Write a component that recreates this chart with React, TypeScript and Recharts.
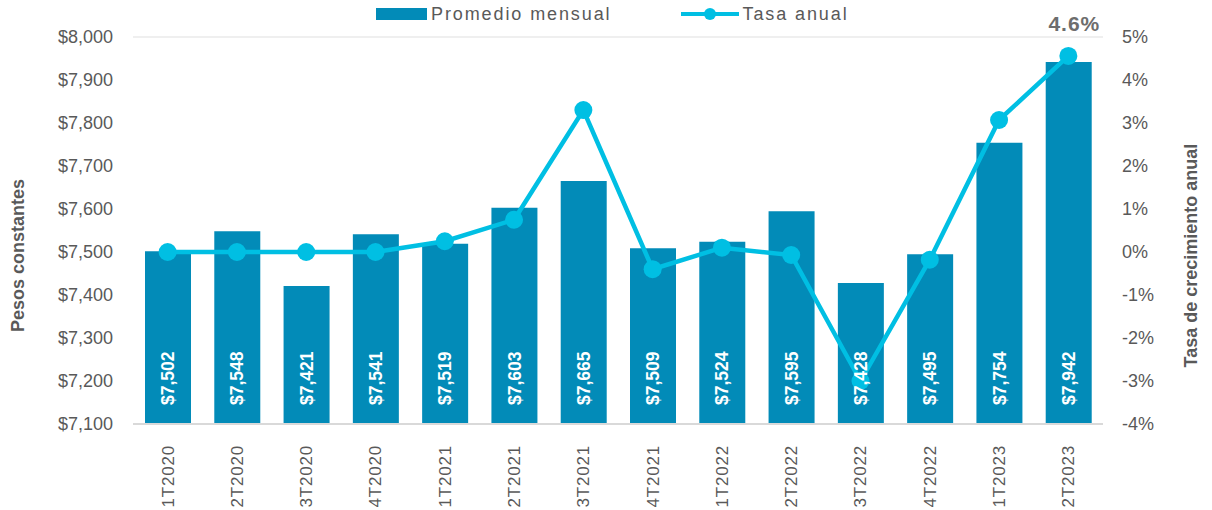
import React from "react";
import {
  ComposedChart,
  Bar,
  Line,
  XAxis,
  YAxis,
  CartesianGrid,
  Legend,
  LabelList,
} from "recharts";

const quarters = [
  "1T2020", "2T2020", "3T2020", "4T2020",
  "1T2021", "2T2021", "3T2021", "4T2021",
  "1T2022", "2T2022", "3T2022", "4T2022",
  "1T2023", "2T2023",
];
const monthlyAvg = [
  7502, 7548, 7421, 7541, 7519, 7603, 7665, 7509, 7524, 7595, 7428, 7495, 7754, 7942,
];
const annualRate = [
  0, 0, 0, 0, 0.25, 0.75, 3.3, -0.4, 0.1, -0.07, -3.0, -0.18, 3.07, 4.56,
];
const leftTicks = [7100, 7200, 7300, 7400, 7500, 7600, 7700, 7800, 7900, 8000];
const rightTicks = [-4, -3, -2, -1, 0, 1, 2, 3, 4, 5];
const lastRateLabel = "4.6%";

const BAR = "#028BB8";
const LINE = "#00BFE3";
const GRAY = "#595959";
const FONT = "'Liberation Sans', Arial, sans-serif";

const data = quarters.map((q, i) => ({
  q,
  avg: monthlyAvg[i],
  rate: annualRate[i],
}));

const XTick = (props: any) => {
  const { x, y, payload } = props;
  return (
    <text
      x={x}
      y={y + 13}
      transform={`rotate(-90, ${x}, ${y + 13})`}
      textAnchor="end"
      dy="0.35em"
      fill={GRAY}
      fontSize={17}
      fontFamily={FONT}
      letterSpacing={0.8}
    >
      {payload.value}
    </text>
  );
};

const BarValue = (props: any) => {
  const { x, y, width, height, value } = props;
  const cx = x + width / 2;
  const cy = y + height - 19;
  return (
    <text
      x={cx}
      y={cy}
      transform={`rotate(-90, ${cx}, ${cy})`}
      textAnchor="start"
      dy="0.35em"
      fill="#ffffff"
      fontWeight="bold"
      fontSize={17.5}
      fontFamily={FONT}
    >
      {"$" + Number(value).toLocaleString("en-US")}
    </text>
  );
};

const RateValue = (props: any) => {
  const { x, y, index } = props;
  if (index !== annualRate.length - 1) return null;
  return (
    <text
      x={x + 6}
      y={y - 25}
      textAnchor="middle"
      fill="#6d6d6d"
      fontWeight="bold"
      fontSize={21}
      fontFamily={FONT}
      letterSpacing={1}
    >
      {lastRateLabel}
    </text>
  );
};

const AxisTitle = (props: any) => {
  const { viewBox, value, dx } = props;
  const cx = viewBox.x + dx;
  const cy = viewBox.y + viewBox.height / 2 + 25;
  return (
    <text
      x={cx}
      y={cy}
      transform={`rotate(-90, ${cx}, ${cy})`}
      textAnchor="middle"
      dy="0.35em"
      fill={GRAY}
      fontWeight="bold"
      fontSize={18}
      fontFamily={FONT}
    >
      {value}
    </text>
  );
};

const LegendBox = () => (
  <div
    style={{
      display: "flex",
      alignItems: "center",
      fontFamily: FONT,
      fontSize: 18,
      color: GRAY,
      letterSpacing: 1.9,
      paddingLeft: 376,
      height: 28,
    }}
  >
    <div style={{ width: 51, height: 12, background: BAR, marginRight: 4 }} />
    <span>Promedio mensual</span>
    <svg width={58} height={16} style={{ marginLeft: 70, marginRight: 3 }}>
      <line x1={0} y1={8} x2={58} y2={8} stroke={LINE} strokeWidth={4} />
      <circle cx={29} cy={8} r={6} fill={LINE} />
    </svg>
    <span>Tasa anual</span>
  </div>
);

export default function App() {
  return (
    <div style={{ position: "absolute", left: 0, top: 0, background: "#fff" }}>
      <ComposedChart
        width={1212}
        height={510}
        data={data}
        margin={{ top: 37, right: 0, left: 0, bottom: 0 }}
        barSize={46}
      >
        <CartesianGrid vertical={false} stroke="#efefef" strokeWidth={2} />
        <XAxis
          dataKey="q"
          height={86}
          tick={<XTick />}
          tickLine={false}
          axisLine={{ stroke: "#d9d9d9", strokeWidth: 2 }}
          interval={0}
        />
        <YAxis
          yAxisId="left"
          width={133}
          domain={[7100, 8000]}
          ticks={leftTicks}
          tickFormatter={(v: number) => "$" + v.toLocaleString("en-US")}
          tick={{ fill: GRAY, fontSize: 18, fontFamily: FONT }}
          tickLine={false}
          axisLine={false}
          tickMargin={14}
          allowDataOverflow
          label={<AxisTitle value="Pesos constantes" dx={18} />}
        />
        <YAxis
          yAxisId="right"
          orientation="right"
          width={109}
          domain={[-4, 5]}
          ticks={rightTicks}
          tickFormatter={(v: number) => v + "%"}
          tick={{ fill: GRAY, fontSize: 18, fontFamily: FONT }}
          tickLine={false}
          axisLine={false}
          tickMargin={13}
          label={<AxisTitle value="Tasa de crecimiento anual" dx={88} />}
        />
        <Legend
          verticalAlign="middle"
          align="center"
          content={<LegendBox />}
          wrapperStyle={{ top: 0, left: 0, width: 1212 }}
        />
        <Bar
          yAxisId="left"
          dataKey="avg"
          name="Promedio mensual"
          fill={BAR}
          isAnimationActive={false}
        >
          <LabelList dataKey="avg" content={<BarValue />} />
        </Bar>
        <Line
          yAxisId="right"
          dataKey="rate"
          name="Tasa anual"
          stroke={LINE}
          strokeWidth={4.5}
          dot={{ r: 9, fill: LINE, stroke: LINE, strokeWidth: 0 }}
          isAnimationActive={false}
        >
          <LabelList dataKey="rate" content={<RateValue />} />
        </Line>
      </ComposedChart>
    </div>
  );
}
